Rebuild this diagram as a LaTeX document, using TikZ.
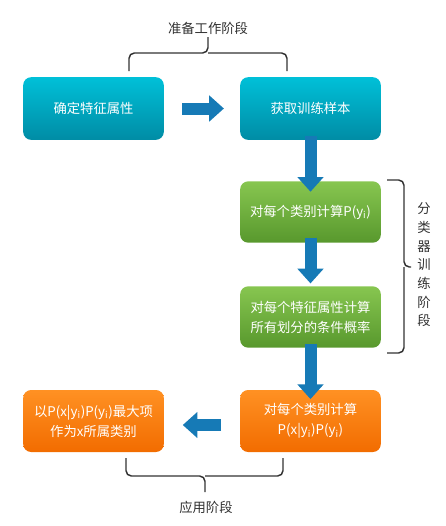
\documentclass[tikz,border=0pt]{standalone}
\usepackage{fontspec}
\setmainfont{Noto Sans CJK SC}
\usetikzlibrary{arrows.meta}
\definecolor{cyantop}{RGB}{0,192,216}
\definecolor{cyanbot}{RGB}{0,140,165}
\definecolor{greentop}{RGB}{135,198,80}
\definecolor{greenbot}{RGB}{88,152,45}
\definecolor{orangetop}{RGB}{255,145,35}
\definecolor{orangebot}{RGB}{242,108,0}
\definecolor{arrowblue}{RGB}{22,122,182}
\definecolor{bracegray}{RGB}{50,50,50}
\tikzset{
  stepbox/.style={rounded corners=6pt, minimum width=105.5pt, text=white, align=center,
    font=\fontsize{10}{15}\selectfont},
  prepbox/.style={stepbox, minimum height=47pt, top color=cyantop, bottom color=cyanbot},
  trainbox/.style={stepbox, minimum height=46pt, top color=greentop, bottom color=greenbot},
  usebox/.style={stepbox, minimum height=46.5pt, top color=orangetop, bottom color=orangebot},
  bigarrow/.style={draw=arrowblue, line width=9pt, -{Triangle[width=19pt,length=11pt]}},
  bracket/.style={draw=bracegray, line width=1.1pt, rounded corners=4pt},
  phase/.style={text=bracegray, font=\fontsize{10}{14}\selectfont, align=center}
}
\begin{document}
\begin{tikzpicture}[x=0.75pt, y=-0.75pt]
  \useasboundingbox (0,0) rectangle (446,526);
  % boxes
  \node[prepbox] (feat) at (93.5,108.5) {确定特征属性};
  \node[prepbox] (sample) at (310.5,108.5) {获取训练样本};
  \node[trainbox] (prior) at (310.5,212) {对每个类别计算P(y\textsubscript{i})};
  \node[trainbox] (cond) at (310.5,317) {对每个特征属性计算\\所有划分的条件概率};
  \node[usebox] (joint) at (310.5,421) {对每个类别计算\\P(x|y\textsubscript{i})P(y\textsubscript{i})};
  \node[usebox] (pick) at (93.5,421) {以P(x|y\textsubscript{i})P(y\textsubscript{i})最大项\\作为x所属类别};
  % arrows
  \draw[bigarrow, shorten <=13.5pt, shorten >=12pt] (feat.east) -- (sample.west);
  \draw[bigarrow, shorten <=-3pt, shorten >=-8pt] (sample.south) -- (prior.north);
  \draw[bigarrow, shorten <=-4pt, shorten >=2pt] (prior.south) -- (cond.north);
  \draw[bigarrow, shorten <=-3pt, shorten >=-7pt] (cond.south) -- (joint.north);
  \draw[bigarrow, shorten <=14pt, shorten >=14pt] ([yshift=-3pt]joint.west) -- ([yshift=-3pt]pick.east);
  % braces
  \draw[bracket] (129,71) |- (208,53) -- (208,37);
  \draw[bracket] (287,71) |- (208,53);
  \draw[bracket] (387,180) -| (404,267) -- (411,267);
  \draw[bracket] (387,353) -| (404,267);
  \draw[bracket] (126,458) |- (205,476) -- (205,492);
  \draw[bracket] (283,458) |- (205,476);
  % labels
  \node[phase] (prep) at (208,28) {准备工作阶段};
  \node[phase] (train) at (424,265) {分\\类\\器\\训\\练\\阶\\段};
  \node[phase] (use) at (206,507) {应用阶段};
\end{tikzpicture}
\end{document}
